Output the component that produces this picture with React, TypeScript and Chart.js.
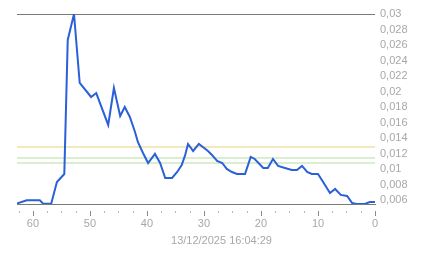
import React, { useEffect, useRef } from "react";
import { Chart, registerables } from "chart.js";

Chart.register(...registerables);

// minutes ago (x) and measured value (y)
const minutesAgo = [
  62.8, 61.1, 58.8, 58.2, 56.8, 55.8, 54.5, 53.9, 52.8, 51.8, 49.8, 48.9, 46.8, 45.8, 44.7, 43.9,
  43.0, 42.1, 41.6, 40.7, 39.8, 38.6, 37.7, 36.8, 35.6, 34.7, 33.9, 33.3, 32.8, 31.9, 30.9, 30.2,
  29.3, 28.6, 27.7, 26.8, 26.0, 25.1, 24.2, 22.8, 21.8, 21.1, 19.6, 18.8, 17.9, 17.0, 15.8, 14.6,
  13.7, 12.8, 11.9, 11.1, 10.0, 9.1, 7.9, 7.0, 6.0, 4.9, 4.0, 3.2, 1.8, 0.9, 0,
];
const values = [
  0.00555, 0.00596, 0.00596, 0.00552, 0.00552, 0.00832, 0.00935, 0.02665, 0.03, 0.0211, 0.01929,
  0.0198, 0.01568, 0.02045, 0.01684, 0.018, 0.01671, 0.01477, 0.01348, 0.01206, 0.01077, 0.01194,
  0.01077, 0.00884, 0.00884, 0.00961, 0.01052, 0.01181, 0.01323, 0.01232, 0.01323, 0.01284,
  0.01232, 0.01181, 0.01103, 0.01077, 0.01, 0.00961, 0.00935, 0.00935, 0.01155, 0.01129, 0.01013,
  0.01013, 0.01129, 0.01039, 0.01013, 0.00987, 0.00987, 0.01039, 0.00961, 0.00935, 0.00935,
  0.00832, 0.0069, 0.00742, 0.00665, 0.00652, 0.00561, 0.00548, 0.00548, 0.00574, 0.00574,
];

const yellowLevel = 0.01284;
const greenLevels = [0.01142, 0.01077];

const yTickValues = [
  0.006, 0.008, 0.01, 0.012, 0.014, 0.016, 0.018, 0.02, 0.022, 0.024, 0.026, 0.028, 0.03,
];
const xLabelValues = [0, 10, 20, 30, 40, 50, 60];
const xMinorStep = 2.5;
const xMin = 0;
const xMax = 62.8;
const yMin = 0.00548;
const yMax = 0.03;
const timestampLabel = "13/12/2025 16:04:29";

const FONT = "'Liberation Sans', Arial, sans-serif";
const LABEL_COLOR = "#a8a8a8";

const extrasPlugin = {
  id: "extras",
  afterDraw(chart: any) {
    const ctx = chart.ctx;
    const xs = chart.scales.x;
    const top = chart.chartArea.bottom + 7;
    ctx.save();
    ctx.lineWidth = 1;
    for (let v = xMin; v <= xMax + 1e-9; v += xMinorStep) {
      const px = Math.round(xs.getPixelForValue(v)) + 0.5;
      const major = Math.abs(v % 10) < 1e-9;
      ctx.strokeStyle = major ? "#8a8a8a" : "#b8b8b8";
      ctx.beginPath();
      ctx.moveTo(px, top);
      ctx.lineTo(px, top + (major ? 5 : 2));
      ctx.stroke();
    }
    ctx.fillStyle = LABEL_COLOR;
    ctx.font = `11px ${FONT}`;
    ctx.textAlign = "center";
    ctx.textBaseline = "middle";
    ctx.fillText(timestampLabel, chart.width / 2, 241);
    ctx.restore();
  },
};

function fmt(v: number) {
  return String(+v.toFixed(3)).replace(".", ",");
}

export default function App() {
  const ref = useRef<HTMLCanvasElement | null>(null);
  useEffect(() => {
    if (!ref.current) return;
    const mainData = minutesAgo.map((x, i) => ({ x, y: values[i] }));
    const level = (y: number) => [
      { x: xMin, y },
      { x: xMax, y },
    ];
    const chart = new Chart(ref.current, {
      type: "line",
      data: {
        datasets: [
          {
            data: mainData,
            borderColor: "#2a60d8",
            borderWidth: 2,
            pointRadius: 0,
            tension: 0,
            order: 0,
          },
          {
            data: level(yellowLevel),
            borderColor: "#e6d07e",
            borderWidth: 1,
            pointRadius: 0,
            order: 1,
          },
          ...greenLevels.map((g) => ({
            data: level(g),
            borderColor: "#b4dea0",
            borderWidth: 1,
            pointRadius: 0,
            order: 1,
          })),
        ],
      },
      options: {
        animation: false,
        responsive: false,
        events: [],
        layout: { padding: { left: 17, top: 14, right: 0, bottom: 0 } },
        plugins: { legend: { display: false }, tooltip: { enabled: false }, title: { display: false } },
        scales: {
          x: {
            type: "linear",
            min: xMin,
            max: xMax,
            reverse: true,
            afterBuildTicks: (s: any) => {
              s.ticks = xLabelValues.map((v) => ({ value: v }));
            },
            afterFit: (s: any) => {
              s.height = 54;
            },
            grid: { display: false, drawTicks: false },
            border: { display: true, color: "#7a7a7a", width: 1 },
            ticks: {
              color: LABEL_COLOR,
              font: { size: 11, family: FONT },
              padding: 13,
              maxRotation: 0,
              autoSkip: false,
              callback: (v: any) => String(v),
            },
          },
          y: {
            position: "right",
            min: yMin,
            max: yMax,
            afterBuildTicks: (s: any) => {
              s.ticks = yTickValues.map((v) => ({ value: v }));
            },
            afterFit: (s: any) => {
              s.width = 68;
            },
            grid: {
              drawTicks: false,
              color: (c: any) =>
                c.tick && Math.abs(c.tick.value - yMax) < 1e-9 ? "#7a7a7a" : "rgba(0,0,0,0)",
            },
            border: { display: false },
            ticks: {
              color: LABEL_COLOR,
              font: { size: 11, family: FONT },
              padding: 5,
              autoSkip: false,
              callback: (v: any) => fmt(Number(v)),
            },
          },
        },
      },
      plugins: [extrasPlugin],
    } as any);
    return () => chart.destroy();
  }, []);
  return (
    <div style={{ position: "fixed", left: 0, top: 0, width: 443, height: 258, background: "#fff" }}>
      <canvas ref={ref} width={443} height={258} style={{ width: 443, height: 258, display: "block" }} />
    </div>
  );
}
